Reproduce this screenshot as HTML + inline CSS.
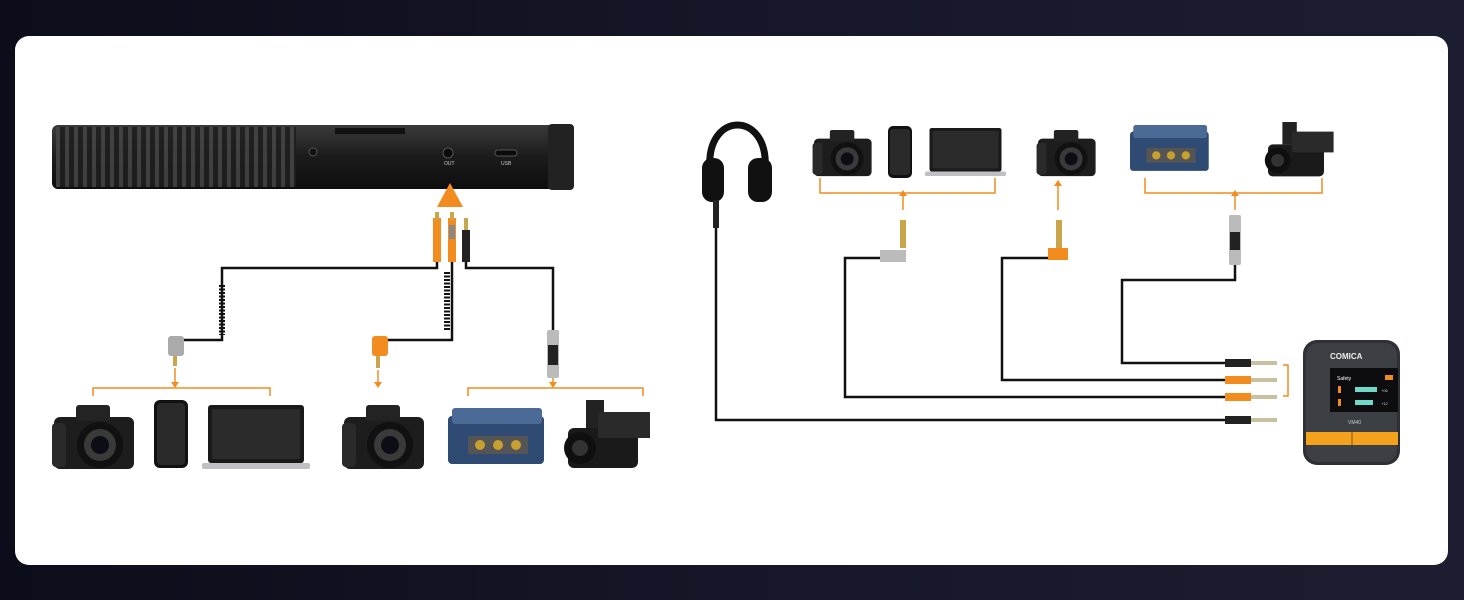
<!DOCTYPE html>
<html><head><meta charset="utf-8"><style>
html,body{margin:0;padding:0;width:1464px;height:600px;overflow:hidden;background:linear-gradient(90deg,#0c0d1a,#17182a 60%,#1c1d30);}
svg{display:block}
text{font-family:"Liberation Sans",sans-serif}
</style></head><body>
<svg width="1464" height="600" viewBox="0 0 1464 600" xmlns="http://www.w3.org/2000/svg">
<defs>
<linearGradient id="mic" x1="0" y1="0" x2="0" y2="1"><stop offset="0" stop-color="#3a3a3a"/><stop offset=".5" stop-color="#1b1b1b"/><stop offset="1" stop-color="#0e0e0e"/></linearGradient>
<pattern id="grill" width="9" height="66" patternUnits="userSpaceOnUse"><rect width="9" height="66" fill="#1e1e1e"/><rect x="2" width="4" height="66" fill="#444"/></pattern>
<g id="cam"><rect x="0" y="12" width="80" height="52" rx="6" fill="#1d1d1d"/><rect x="22" y="0" width="34" height="16" rx="3" fill="#232323"/><rect x="-2" y="18" width="14" height="44" rx="4" fill="#2a2a2a"/><circle cx="46" cy="40" r="23" fill="#111"/><circle cx="46" cy="40" r="16" fill="#3a3a3a"/><circle cx="46" cy="40" r="9" fill="#0d0d15"/></g>
<g id="rec"><rect x="0" y="8" width="96" height="48" rx="4" fill="#2f4a73"/><rect x="4" y="0" width="90" height="16" rx="3" fill="#4c6a96"/><rect x="20" y="28" width="60" height="18" fill="#555"/><circle cx="32" cy="37" r="5" fill="#c8a030"/><circle cx="50" cy="37" r="5" fill="#c8a030"/><circle cx="68" cy="37" r="5" fill="#c8a030"/></g>
<g id="cc"><rect x="0" y="28" width="70" height="40" rx="6" fill="#1a1a1a"/><rect x="18" y="0" width="18" height="28" fill="#222"/><rect x="30" y="12" width="52" height="26" fill="#2a2a2a"/><circle cx="12" cy="48" r="16" fill="#0f0f0f"/><circle cx="12" cy="48" r="8" fill="#333"/></g>
<g id="lap"><rect x="6" y="0" width="96" height="58" rx="3" fill="#1a1a1a"/><rect x="10" y="4" width="88" height="50" fill="#2b2b2b"/><rect x="0" y="58" width="108" height="6" rx="2" fill="#bfbfc4"/></g>
<g id="ph"><rect x="0" y="0" width="34" height="68" rx="6" fill="#111"/><rect x="3" y="3" width="28" height="62" rx="4" fill="#2a2a2a"/></g>
</defs>

<rect x="15" y="36" width="1433" height="529" rx="14" fill="#fff"/>

<rect x="52" y="125" width="522" height="64" rx="6" fill="url(#mic)"/>
<rect x="56" y="127" width="240" height="60" fill="url(#grill)" opacity=".9"/>
<rect x="335" y="128" width="70" height="6" fill="#111"/>
<rect x="548" y="124" width="26" height="66" rx="4" fill="#222"/>
<circle cx="448" cy="153" r="5" fill="#0a0a0a" stroke="#555"/>
<circle cx="313" cy="152" r="4" fill="#111" stroke="#555"/>
<rect x="495" y="150" width="22" height="6" rx="3" fill="#0a0a0a" stroke="#555"/>
<text x="444" y="165" font-size="5" fill="#ccc">OUT</text><text x="501" y="165" font-size="5" fill="#ccc">USB</text>
<polygon points="450,183 437,207 463,207" fill="#f28c1e"/>

<g fill="none" stroke="#111" stroke-width="2.5">
<path d="M437 258 V268 H222 V340 H178"/>
<path d="M452 258 V340 H380"/>
<path d="M466 258 V268 H553 V330"/>
<path d="M716 225 V420 H1225"/>
<path d="M882 258 H845 V397 H1225"/>
<path d="M1052 258 H1002 V380 H1225"/>
<path d="M1235 262 V280 H1122 V363 H1225"/>
</g>
<g stroke="#111" stroke-width="6" stroke-dasharray="2 1.5"><line x1="222" y1="285" x2="222" y2="335"/><line x1="447" y1="272" x2="447" y2="330"/></g>

<rect x="433" y="218" width="8" height="44" fill="#f28c1e"/><rect x="435" y="212" width="4" height="8" fill="#c9a64a"/>
<rect x="448" y="218" width="8" height="44" fill="#f28c1e"/><rect x="449" y="225" width="6" height="14" fill="#888"/><rect x="450" y="212" width="4" height="8" fill="#c9a64a"/>
<rect x="462" y="230" width="8" height="32" fill="#222"/><rect x="464" y="218" width="4" height="12" fill="#c9a64a"/>
<rect x="168" y="336" width="16" height="20" rx="3" fill="#aaa"/><rect x="173" y="356" width="4" height="10" fill="#c9a64a"/>
<rect x="372" y="336" width="16" height="20" rx="3" fill="#f28c1e"/><rect x="376" y="356" width="4" height="12" fill="#c9a64a"/>
<rect x="547" y="330" width="12" height="48" rx="2" fill="#bbb"/><rect x="548" y="345" width="10" height="20" fill="#222"/>

<g fill="none" stroke="#f28c1e" stroke-width="1.5">
<path d="M93 396 V388 H270 V396"/><path d="M468 396 V388 H643 V396"/>
<path d="M820 178 V193 H995 V178"/><path d="M1145 178 V193 H1322 V178"/>
<path d="M1283 365 H1288 V396 H1283"/>
</g>
<g stroke="#f28c1e" stroke-width="1.5"><line x1="175" y1="368" x2="175" y2="384"/><line x1="378" y1="370" x2="378" y2="384"/><line x1="553" y1="378" x2="553" y2="384"/>
<line x1="903" y1="193" x2="903" y2="210"/><line x1="1058" y1="182" x2="1058" y2="210"/><line x1="1235" y1="193" x2="1235" y2="210"/></g>
<g fill="#f28c1e"><polygon points="171,382 179,382 175,388"/><polygon points="374,382 382,382 378,388"/><polygon points="549,382 557,382 553,388"/>
<polygon points="899,196 907,196 903,190"/><polygon points="1054,186 1062,186 1058,180"/><polygon points="1231,196 1239,196 1235,190"/></g>

<use href="#cam" x="54" y="405"/><use href="#ph" x="154" y="400"/><use href="#lap" x="202" y="405"/>
<use href="#cam" x="344" y="405"/><use href="#rec" x="448" y="408"/><use href="#cc" x="568" y="400"/>

<use href="#cam" x="814" y="130" transform="translate(814 130) scale(.72) translate(-814 -130)"/>
<rect x="888" y="126" width="24" height="52" rx="5" fill="#111"/><rect x="890" y="129" width="20" height="46" rx="3" fill="#2a2a2a"/>
<use href="#lap" x="925" y="128" transform="translate(925 128) scale(.75) translate(-925 -128)"/>
<use href="#cam" x="1038" y="130" transform="translate(1038 130) scale(.72) translate(-1038 -130)"/>
<use href="#rec" x="1130" y="125" transform="translate(1130 125) scale(.82) translate(-1130 -125)"/>
<use href="#cc" x="1268" y="122" transform="translate(1268 122) scale(.8) translate(-1268 -122)"/>

<path d="M710 170 C705 110 770 110 765 170" fill="none" stroke="#111" stroke-width="7"/>
<rect x="702" y="158" width="22" height="44" rx="10" fill="#111"/><rect x="748" y="158" width="24" height="44" rx="10" fill="#111"/>
<rect x="713" y="200" width="6" height="28" fill="#222"/>

<rect x="900" y="220" width="6" height="28" fill="#c9a64a"/><path d="M880 250 H906 V262 H880 Z" fill="#bbb"/>
<rect x="1056" y="220" width="6" height="28" fill="#c9a64a"/><path d="M1048 248 H1068 V260 H1048 Z" fill="#f28c1e"/>
<rect x="1229" y="215" width="12" height="50" rx="2" fill="#bbb"/><rect x="1230" y="232" width="10" height="18" fill="#222"/>

<rect x="1225" y="359" width="26" height="8" fill="#222"/><rect x="1251" y="361" width="26" height="4" fill="#c9c0a0"/>
<rect x="1225" y="376" width="26" height="8" fill="#f28c1e"/><rect x="1251" y="378" width="26" height="4" fill="#c9c0a0"/>
<rect x="1225" y="393" width="26" height="8" fill="#f28c1e"/><rect x="1251" y="395" width="26" height="4" fill="#c9c0a0"/>
<rect x="1225" y="416" width="26" height="8" fill="#222"/><rect x="1251" y="418" width="26" height="4" fill="#c9c0a0"/>

<rect x="1303" y="340" width="97" height="125" rx="14" fill="#2e3034"/>
<rect x="1306" y="343" width="91" height="119" rx="12" fill="#3c3f44"/>
<text x="1330" y="359" font-size="8" fill="#eee" font-weight="bold">COMICA</text>
<rect x="1330" y="368" width="68" height="44" fill="#0d0d10"/>
<text x="1337" y="380" font-size="5" fill="#fff">Safety</text><rect x="1385" y="375" width="8" height="5" fill="#f28c1e"/>
<rect x="1338" y="386" width="3" height="7" fill="#f28c1e"/><rect x="1355" y="387" width="22" height="5" fill="#6fd8c6"/><text x="1381" y="392" font-size="4" fill="#ccc">+06</text>
<rect x="1338" y="399" width="3" height="7" fill="#f28c1e"/><rect x="1355" y="400" width="18" height="5" fill="#6fd8c6"/><text x="1381" y="405" font-size="4" fill="#ccc">+12</text>
<text x="1348" y="424" font-size="5" fill="#ccc">VM40</text>
<rect x="1306" y="432" width="92" height="13" fill="#f4a21c"/><line x1="1352" y1="432" x2="1352" y2="445" stroke="#7a5a10"/>
</svg>
</body></html>
